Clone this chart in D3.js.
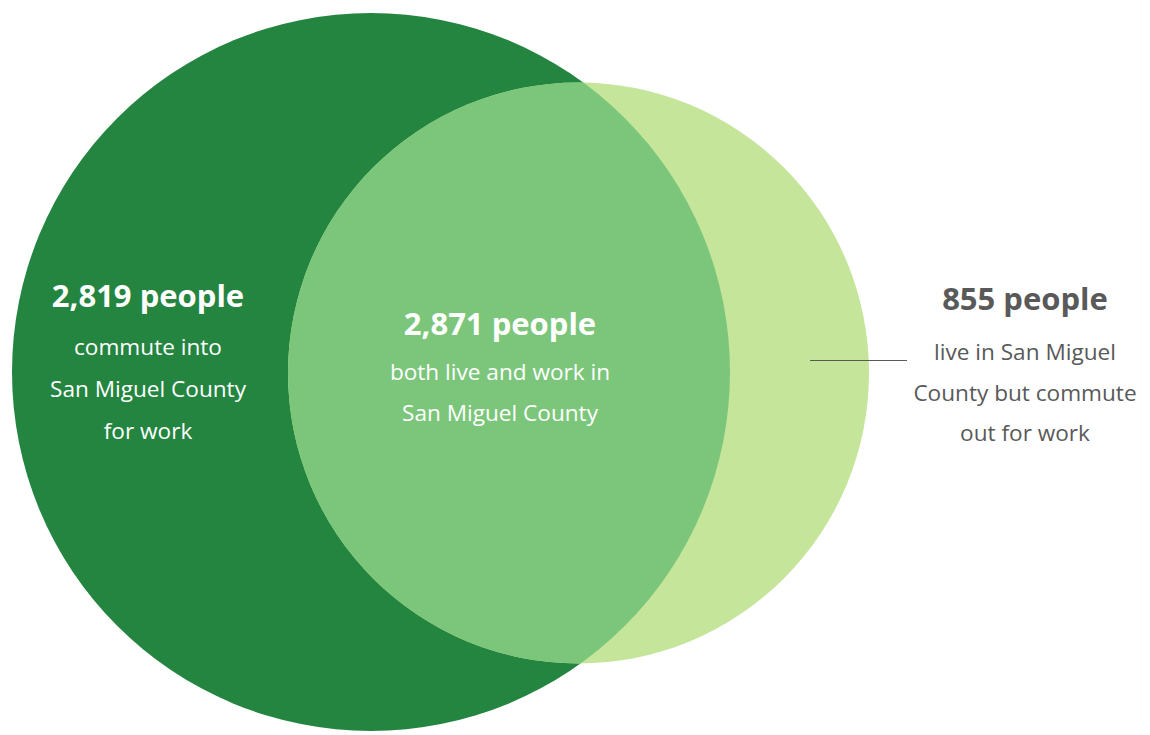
<!DOCTYPE html>
<html>
<head>
<meta charset="utf-8">
<script src="https://cdn.jsdelivr.net/npm/d3@7"></script>
<style>
  html, body { margin: 0; padding: 0; background: #ffffff; }
  svg { display: block; }
</style>
</head>
<body>
<div id="chart"></div>
<script>
// Commuting flows for San Miguel County
const regionKeys = ["inCommuters", "liveAndWork", "outCommuters"];
const peopleCounts = [2819, 2871, 855];
const descriptionLines = [
  ["commute into", "San Miguel County", "for work"],
  ["both live and work in", "San Miguel County"],
  ["live in San Miguel", "County but commute", "out for work"]
];

const width = 1150, height = 735;
const fmt = d3.format(",");

// Workers employed in the county vs. residents of the county
const workplaceTotal = peopleCounts[0] + peopleCounts[1];
const residenceTotal = peopleCounts[1] + peopleCounts[2];

const rScale = d3.scaleSqrt().domain([0, workplaceTotal]).range([0, 359]);

const colors = { work: "#248541", overlap: "#7cc67b", live: "#c4e59a" };

const workCircle = { cx: 371, cy: 372, r: rScale(workplaceTotal) };
const liveCircle = { cx: 578.5, cy: 373, r: rScale(residenceTotal) };

const svg = d3.select("#chart").append("svg")
  .attr("width", width).attr("height", height);

svg.append("defs").append("clipPath").attr("id", "work-clip")
  .append("circle")
  .attr("cx", workCircle.cx).attr("cy", workCircle.cy).attr("r", workCircle.r);

svg.append("circle")
  .attr("cx", workCircle.cx).attr("cy", workCircle.cy).attr("r", workCircle.r)
  .attr("fill", colors.work);

svg.append("circle")
  .attr("cx", liveCircle.cx).attr("cy", liveCircle.cy).attr("r", liveCircle.r)
  .attr("fill", colors.live);

svg.append("circle")
  .attr("clip-path", "url(#work-clip)")
  .attr("cx", liveCircle.cx).attr("cy", liveCircle.cy).attr("r", liveCircle.r)
  .attr("fill", colors.overlap);

// Leader line for the out-commuter label
svg.append("line")
  .attr("x1", 810).attr("x2", 907).attr("y1", 360.5).attr("y2", 360.5)
  .attr("stroke", "#595959").attr("stroke-width", 1);

const labelLayout = [
  { x: 148, y: 307, gap: 48, step: 42, color: "#ffffff" },
  { x: 500, y: 335, gap: 45, step: 41, color: "#ffffff" },
  { x: 1025, y: 310, gap: 50, step: 40.5, color: "#595959" }
];

const fontFamily = "'Open Sans', 'Noto Sans', sans-serif";

regionKeys.forEach((key, i) => {
  const L = labelLayout[i];
  const g = svg.append("g").attr("class", "label " + key)
    .attr("text-anchor", "middle")
    .attr("font-family", fontFamily)
    .attr("fill", L.color);
  g.append("text")
    .attr("x", L.x).attr("y", L.y)
    .attr("font-size", 31).attr("font-weight", 700)
    .text(fmt(peopleCounts[i]) + " people");
  g.selectAll("text.desc").data(descriptionLines[i]).enter()
    .append("text").attr("class", "desc")
    .attr("x", L.x)
    .attr("y", (d, j) => L.y + L.gap + j * L.step)
    .attr("font-size", 22.6)
    .text(d => d);
});
</script>
</body>
</html>
